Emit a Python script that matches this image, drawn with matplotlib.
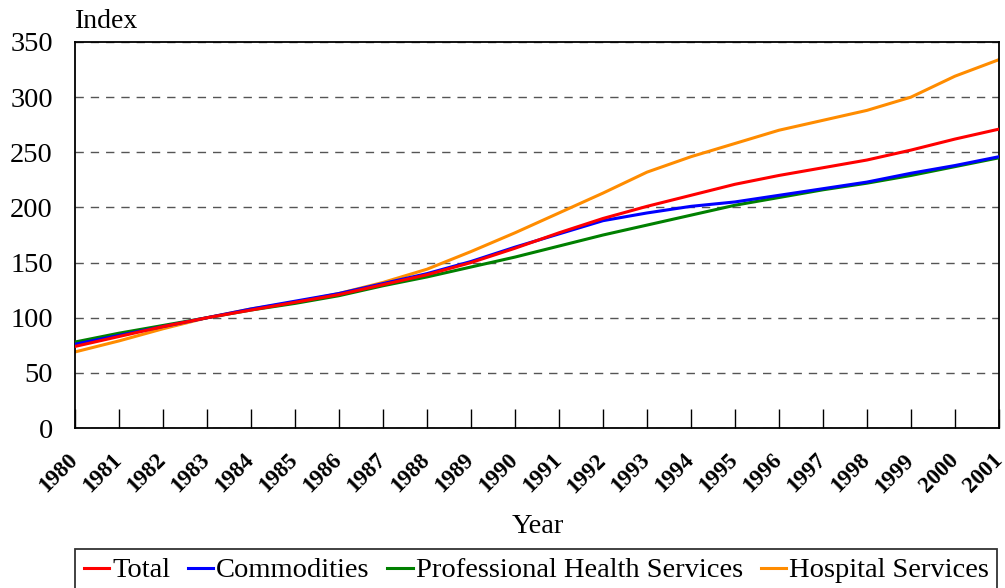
import matplotlib
matplotlib.use('Agg')
import matplotlib.pyplot as plt

plt.rcParams['font.family'] = ['Liberation Serif', 'DejaVu Serif']

years = list(range(1980, 2002))
total = [74, 83, 92, 100, 107, 114, 121, 130, 139, 150, 163, 177, 190, 201, 211, 221, 229, 236, 243, 252, 262, 271]
commodities = [76, 84, 92, 100, 108, 115, 122, 131, 140, 151, 164, 176, 188, 195, 201, 205, 211, 217, 223, 231, 238, 246]
professional = [78, 86, 93, 100, 107, 113, 120, 129, 137, 146, 155, 165, 175, 184, 193, 202, 209, 216, 222, 229, 237, 245]
hospital = [69, 79, 90, 100, 108, 114, 122, 132, 144, 160, 177, 195, 213, 232, 246, 258, 270, 279, 288, 300, 319, 334]

fig = plt.figure(figsize=(10.05, 5.88), dpi=100)
ax = fig.add_axes([0.0746, 0.272, 0.9194, 0.6566])

ax.plot(years, total, color='#ff0000', lw=2.2, label='Total', zorder=5)
ax.plot(years, commodities, color='#0000ff', lw=2.2, label='Commodities', zorder=4)
ax.plot(years, professional, color='#008000', lw=2.2, label='Professional Health Services', zorder=3)
ax.plot(years, hospital, color='#ff8c00', lw=2.2, label='Hospital Services', zorder=2)

ax.set_xlim(1980, 2001)
ax.set_ylim(0, 350)
ax.set_yticks(range(0, 351, 50))
ax.set_xticks(years)
ax.set_xticklabels([str(y) for y in years], rotation=45, fontweight='bold', fontsize=16.5,
                   ha='right', va='center', rotation_mode='anchor')
ax.tick_params(axis='x', direction='in', length=14, width=1, pad=21)
ax.tick_params(axis='y', length=0, labelsize=20.5, pad=16)
ax.yaxis.grid(True, linestyle=(0, (6, 5)), color='#555555', lw=1)
for s in ax.spines.values():
    s.set_linewidth(1.3)

fig.text(0.535, 0.094, 'Year', fontsize=20.5, ha='center', va='baseline')
fig.text(0.0746, 0.952, 'Index', fontsize=20, ha='left', va='baseline')

leg = fig.legend(loc='upper left', bbox_to_anchor=(0.0746, 1 - 549 / 588), ncol=4,
                 fontsize=20.5, frameon=True, fancybox=False, edgecolor='black',
                 handlelength=0.9, handletextpad=0.1, columnspacing=0.62,
                 borderpad=0.3, borderaxespad=0)
leg.get_frame().set_linewidth(1.3)

plt.savefig('out.png', dpi=100)
